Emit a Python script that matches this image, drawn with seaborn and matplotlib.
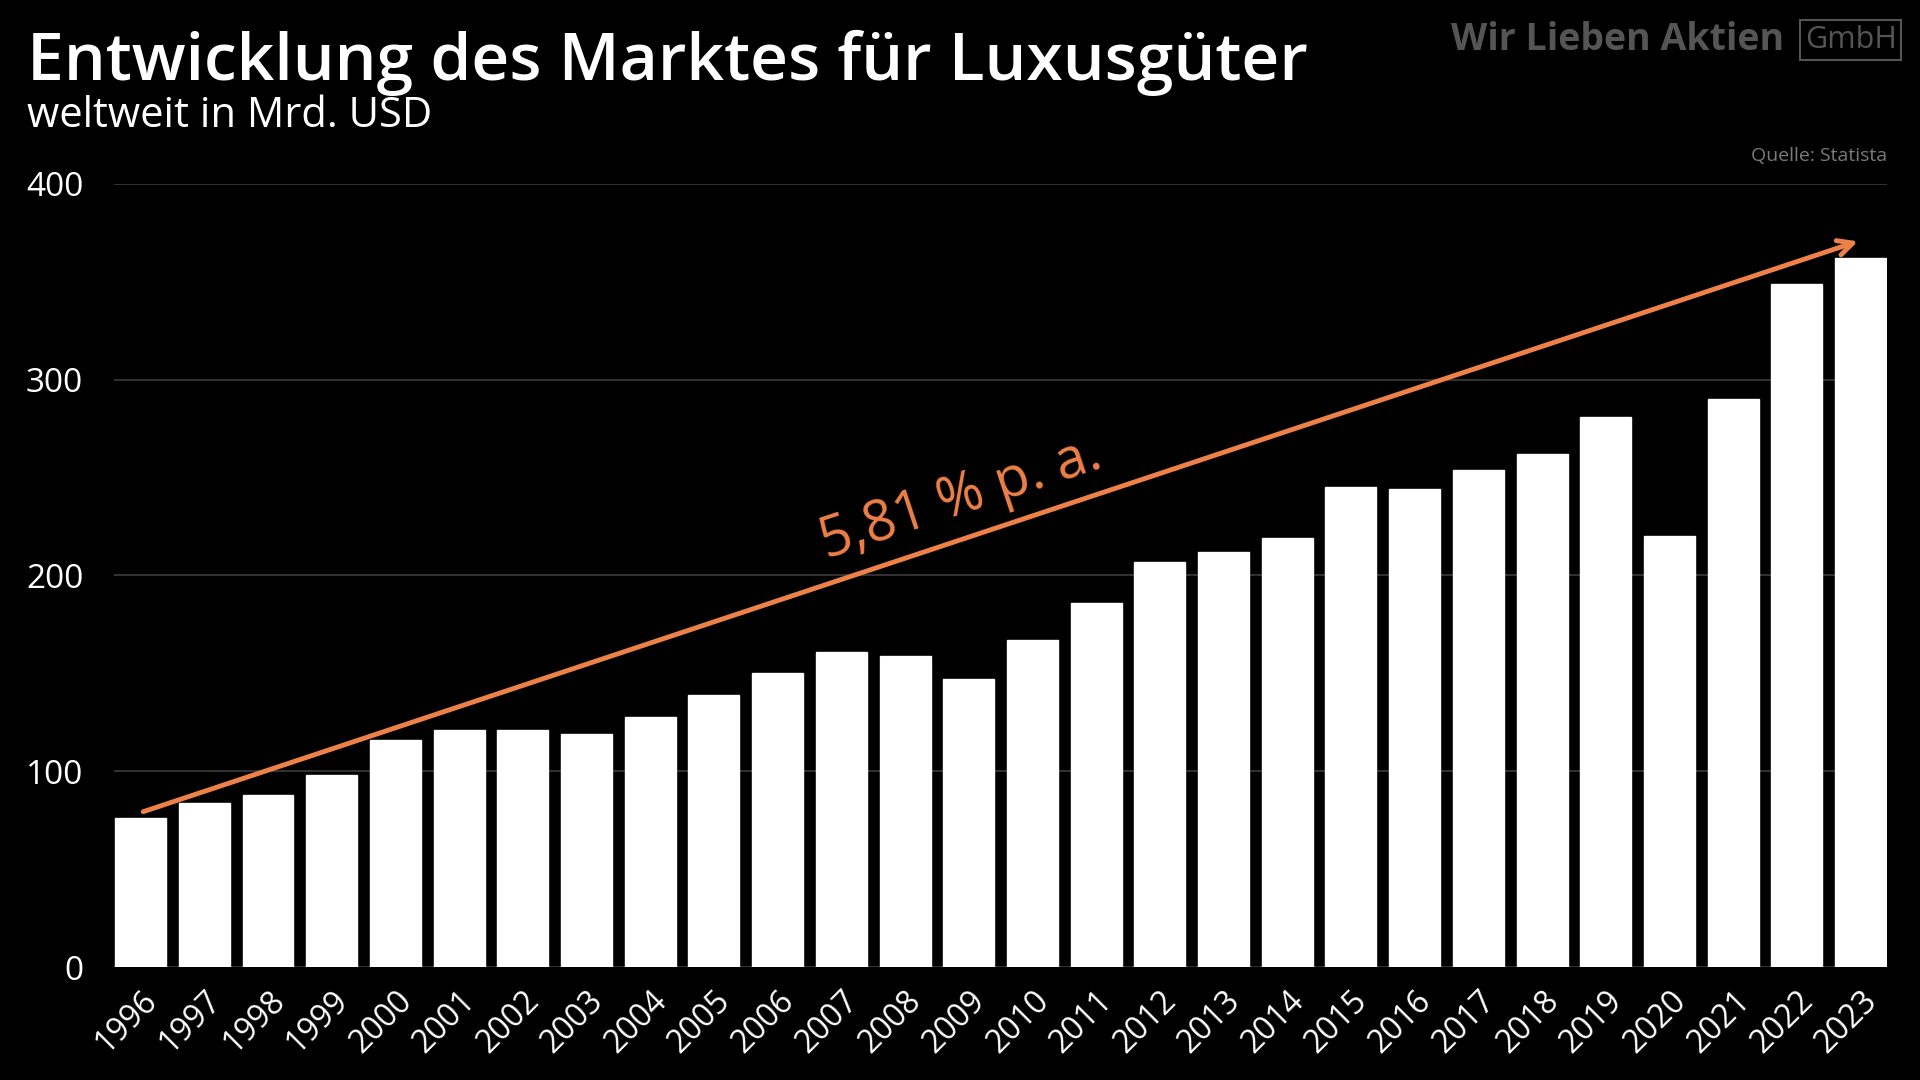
import numpy as np
import pandas as pd
import matplotlib
matplotlib.use("Agg")
import matplotlib.pyplot as plt
import seaborn as sns

# data (Mrd. USD)
years = [str(y) for y in range(1996, 2024)]
values = [76, 84, 88, 98, 116, 121, 121, 119, 128, 139, 150, 161, 159, 147,
          167, 186, 207, 212, 219, 245, 244, 254, 262, 281, 220, 290, 349, 362]
yticks = [0, 100, 200, 300, 400]
trend_start = 79
trend_end = 371
trend_label = "5,81 % p. a."

title = "Entwicklung des Marktes für Luxusgüter"
subtitle = "weltweit in Mrd. USD"
source = "Quelle: Statista"

df = pd.DataFrame({"Jahr": years, "Wert": values})

sns.set_theme(style="dark")
plt.rcParams["font.family"] = ["Open Sans", "DejaVu Sans"]

BG = "#000000"
ORANGE = "#EE8148"

fig = plt.figure(figsize=(19.2, 10.8), dpi=100, facecolor=BG)
ax = fig.add_axes([0.0593, 0.1043, 0.9237, 0.7257])
ax.set_facecolor(BG)

sns.barplot(data=df, x="Jahr", y="Wert", color="white", width=0.8,
            saturation=1, ax=ax, zorder=3)

ax.set_ylim(0, 400)
ax.set_xlim(-0.42, len(years) - 0.58)
ax.set_yticks(yticks)
ax.set_xlabel("")
ax.set_ylabel("")
ax.grid(axis="y", color="#3c3c3c", linewidth=1.2, zorder=0)
ax.grid(axis="x", visible=False)
for s in ax.spines.values():
    s.set_visible(False)
ax.tick_params(axis="y", colors="white", labelsize=24, length=0, pad=22)
ax.tick_params(axis="x", colors="white", labelsize=23, length=0, pad=12)
for lbl in ax.get_xticklabels():
    lbl.set_rotation(45)
    lbl.set_ha("right")
    lbl.set_rotation_mode("anchor")
for lbl in ax.get_yticklabels():
    lbl.set_ha("right")

# trend arrow
ax.annotate("", xy=(len(years) - 1, trend_end), xytext=(0, trend_start),
            arrowprops=dict(arrowstyle="->,head_length=0.9,head_width=0.45",
                            color=ORANGE, lw=3.5),
            zorder=5)
ax.text(12.95, 232, trend_label, color=ORANGE, fontsize=40,
        rotation=18.3, rotation_mode="anchor", ha="center", va="baseline",
        zorder=5)

# titles
fig.text(0.014, 0.926, title, color="white", fontsize=47.5, fontweight="semibold",
         ha="left", va="baseline")
fig.text(0.014, 0.882, subtitle, color="white", fontsize=30,
         ha="left", va="baseline")
fig.text(0.983, 0.856, source, color="#7a7a7a", fontsize=14,
         ha="right", va="center")

# logo
fig.text(0.929, 0.963, "Wir Lieben Aktien", color="#555555", fontsize=27,
         fontweight="bold", ha="right", va="center")
fig.text(0.964, 0.963, "GmbH", color="#555555", fontsize=22,
         ha="center", va="center",
         bbox=dict(boxstyle="square,pad=0.15", fc="none", ec="#555555", lw=1.5))

fig.savefig("out.png", dpi=100, facecolor=BG)
